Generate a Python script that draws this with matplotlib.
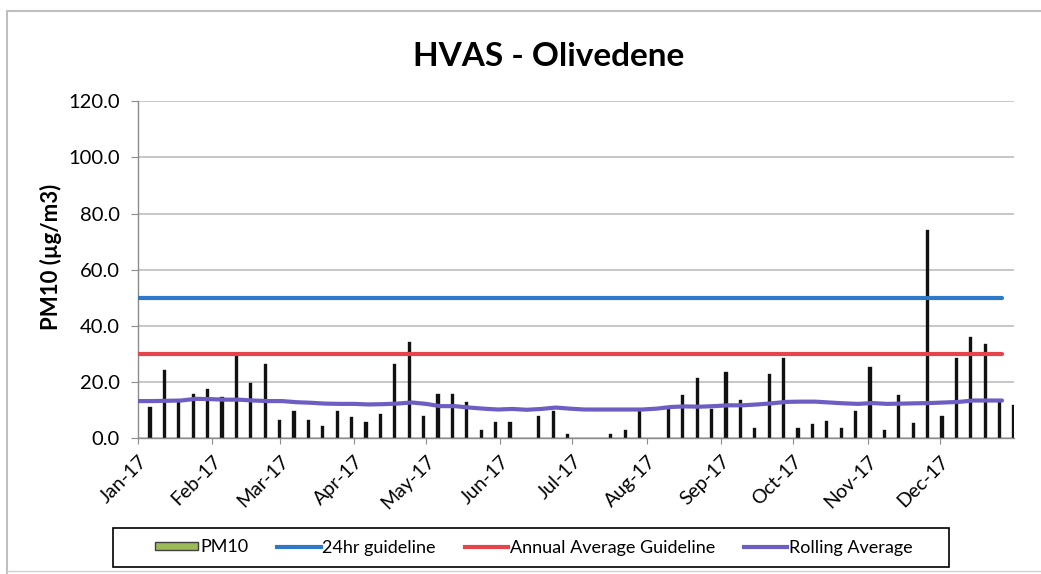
import numpy as np
import pandas as pd
import matplotlib
matplotlib.use('Agg')
import matplotlib.pyplot as plt
import matplotlib.dates as mdates
from matplotlib.lines import Line2D
from matplotlib.patches import Rectangle

plt.rcParams['font.family'] = ['Lato', 'DejaVu Sans']

# HVAS samples, one day in six
pm10_dates = pd.date_range('2017-01-06', periods=61, freq='6D')
pm10 = [11.0, 24.0, 12.8, 15.4, 17.4, 14.5, 30.0, 19.5, 26.1, 6.1,
        9.3, 6.1, 4.2, 9.3, 7.4, 5.4, 8.5, 26.1, 34.1, 7.6,
        15.4, 15.4, 12.7, 2.7, 5.4, 5.4, np.nan, 7.6, 9.5, 1.3,
        np.nan, np.nan, 1.3, 2.7, 10.2, np.nan, 10.5, 15.2, 21.3, 10.2,
        23.2, 13.5, 3.5, 22.4, 28.3, 3.3, 4.9, 5.9, 3.4, 9.4,
        25.1, 2.6, 15.1, 5.2, 73.9, 7.5, 28.3, 35.9, 33.3, 13.5,
        11.4]

line_dates = pd.date_range('2017-01-01', periods=61, freq='6D')
rolling_avg = [13.3, 13.3, 13.4, 13.5, 14.1, 14.0, 13.8, 13.8, 13.5, 13.3,
               13.3, 12.9, 12.7, 12.4, 12.3, 12.3, 12.1, 12.2, 12.4, 12.8,
               12.3, 11.5, 11.5, 11.0, 10.6, 10.3, 10.5, 10.2, 10.5, 11.0,
               10.6, 10.3, 10.3, 10.3, 10.3, 10.3, 10.6, 11.2, 11.4, 11.3,
               11.5, 11.8, 11.8, 12.1, 12.5, 13.0, 13.1, 13.1, 12.8, 12.5,
               12.3, 12.6, 12.3, 12.4, 12.5, 12.6, 12.8, 13.0, 13.5, 13.5,
               13.5]
guideline_24hr = 50.0
guideline_annual = 30.0

c_bar = '#9BBB59'
c_blue = '#2F78C8'
c_red = '#E4444A'
c_purple = '#6E5EC4'
c_grid = '#BDBDBD'

fig = plt.figure(figsize=(10.41, 5.74), dpi=100)
ax = fig.add_axes([0.1326, 0.2361, 0.8415, 0.5879])

# narrow columns: the dark outline swallows the green fill, as in the original
ax.bar(pm10_dates, pm10, width=0.5, color=c_bar, edgecolor='#111111',
       linewidth=1.7, zorder=2)
ax.plot(line_dates, [guideline_24hr] * len(line_dates), color=c_blue,
        linewidth=3, solid_capstyle='round', zorder=3)
ax.plot(line_dates, [guideline_annual] * len(line_dates), color=c_red,
        linewidth=3, solid_capstyle='round', zorder=3)
ax.plot(line_dates, rolling_avg, color=c_purple, linewidth=3,
        solid_capstyle='round', zorder=3)

ax.set_xlim(pd.Timestamp('2017-01-01'), pd.Timestamp('2018-01-01'))
ax.set_ylim(0, 120)
ax.set_yticks(np.arange(0, 121, 20))
ax.yaxis.set_major_formatter(matplotlib.ticker.FormatStrFormatter('%.1f'))
months = pd.date_range('2017-01-01', periods=12, freq='MS')
ax.set_xticks(months)
ax.xaxis.set_major_formatter(mdates.DateFormatter('%b-%y'))
plt.setp(ax.get_xticklabels(), rotation=45, ha='right', va='top',
         rotation_mode='anchor')
ax.tick_params(axis='x', labelsize=14, length=4, color='#8C8C8C', pad=6)
ax.tick_params(axis='y', labelsize=14.5, length=5, color='#8C8C8C', pad=8)

ax.grid(axis='y', color=c_grid, linewidth=1.2, zorder=0)
ax.set_axisbelow(True)
for s in ['top', 'right']:
    ax.spines[s].set_visible(False)
for s in ['left', 'bottom']:
    ax.spines[s].set_color('#8C8C8C')
    ax.spines[s].set_linewidth(1)

fig.text(0.5274, 0.9007, 'HVAS - Olivedene', ha='center', va='center',
         fontsize=24, fontweight='bold')
fig.text(0.049, 0.552, 'PM10 (µg/m3)', ha='center', va='center',
         rotation=90, fontsize=16, fontweight='bold')

handles = [Rectangle((0, 0), 1, 1, facecolor=c_bar, edgecolor='#404040', linewidth=1),
           Line2D([], [], color=c_blue, linewidth=3),
           Line2D([], [], color=c_red, linewidth=3),
           Line2D([], [], color=c_purple, linewidth=3)]
labels = ['PM10', '24hr guideline', 'Annual Average Guideline', 'Rolling Average']
fig.legend(handles, labels, loc='center', ncol=4,
           bbox_to_anchor=(534 / 1041, 1 - 547.5 / 574),
           fontsize=13, frameon=False,
           handlelength=2.4, handleheight=0.35, handletextpad=0.1,
           columnspacing=1.6, borderaxespad=0, borderpad=0)
fig.add_artist(Rectangle((113 / 1041, 1 - 567 / 574), 836 / 1041, 39 / 574,
                         transform=fig.transFigure, fill=False,
                         edgecolor='black', linewidth=1.2))

# outer chart border
fig.add_artist(Line2D([0.0072, 0.0072], [0.002, 0.9808], color='#BFBFBF',
                      linewidth=1.5, transform=fig.transFigure))
fig.add_artist(Line2D([0.0072, 1.0], [0.9808, 0.9808], color='#BFBFBF',
                      linewidth=1.5, transform=fig.transFigure))
fig.add_artist(Line2D([0.0072, 1.0], [0.006, 0.006], color='#D0D0D0',
                      linewidth=1.0, transform=fig.transFigure))

plt.savefig('out.png', dpi=100)
plt.close()
